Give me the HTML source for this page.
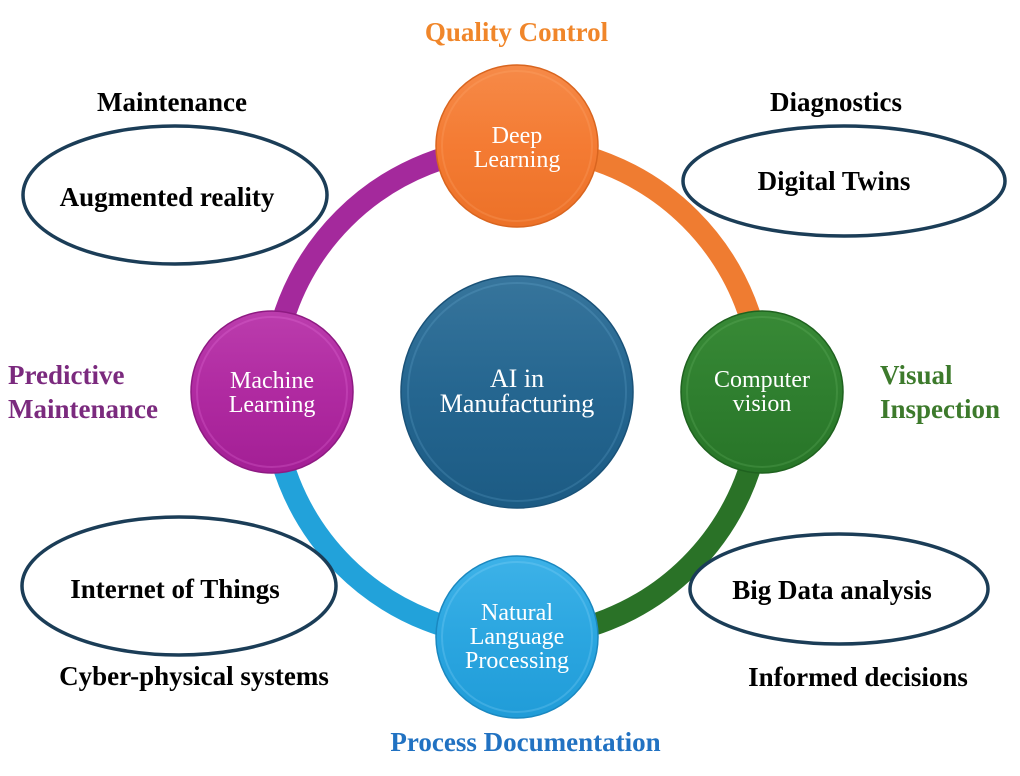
<!DOCTYPE html>
<html>
<head>
<meta charset="utf-8">
<style>
html,body{margin:0;padding:0;background:#fff;}
svg{display:block;}
text{font-family:"Liberation Serif","Times New Roman",serif;}
.lbl{font-weight:bold;font-size:27px;fill:#000;}
.node{font-size:24px;fill:#fff;}
</style>
</head>
<body>
<svg width="1020" height="776" viewBox="0 0 1020 776" xmlns="http://www.w3.org/2000/svg">
<defs>
  <linearGradient id="gO" x1="0" y1="0" x2="0" y2="1">
    <stop offset="0" stop-color="#f68a48"/>
    <stop offset="0.5" stop-color="#f47b33"/>
    <stop offset="1" stop-color="#ec7128"/>
  </linearGradient>
  <linearGradient id="gP" x1="0" y1="0" x2="0" y2="1">
    <stop offset="0" stop-color="#bb3dad"/>
    <stop offset="0.5" stop-color="#b02aa1"/>
    <stop offset="1" stop-color="#a31f95"/>
  </linearGradient>
  <linearGradient id="gC" x1="0" y1="0" x2="0" y2="1">
    <stop offset="0" stop-color="#37759c"/>
    <stop offset="0.5" stop-color="#256690"/>
    <stop offset="1" stop-color="#1c5b84"/>
  </linearGradient>
  <linearGradient id="gG" x1="0" y1="0" x2="0" y2="1">
    <stop offset="0" stop-color="#388a36"/>
    <stop offset="0.5" stop-color="#2f7f2f"/>
    <stop offset="1" stop-color="#287528"/>
  </linearGradient>
  <linearGradient id="gB" x1="0" y1="0" x2="0" y2="1">
    <stop offset="0" stop-color="#3db2e8"/>
    <stop offset="0.5" stop-color="#2ba6e0"/>
    <stop offset="1" stop-color="#209cd8"/>
  </linearGradient>
</defs>

<!-- Ring arcs -->
<g fill="none" stroke-width="22">
  <path d="M272,392 A245,245 0 0 1 517,147" stroke="#a4299c"/>
  <path d="M517,147 A245,245 0 0 1 762,392" stroke="#ef7c31"/>
  <path d="M762,392 A245,245 0 0 1 517,637" stroke="#2a7227"/>
  <path d="M517,637 A245,245 0 0 1 272,392" stroke="#22a2da"/>
</g>

<!-- Ellipses -->
<g fill="#fff" stroke="#1b3d57" stroke-width="3.5">
  <ellipse cx="175" cy="195" rx="152" ry="69"/>
  <ellipse cx="844" cy="181" rx="161" ry="55"/>
  <ellipse cx="179" cy="586" rx="157" ry="69"/>
  <ellipse cx="839" cy="589" rx="149" ry="55"/>
</g>

<!-- Center circle -->
<circle cx="517" cy="392" r="116" fill="url(#gC)" stroke="#1a5278" stroke-width="1.5"/>
<circle cx="517" cy="392" r="109" fill="none" stroke="#7fc4e8" stroke-opacity="0.18" stroke-width="2"/>

<!-- Nodes -->
<circle cx="517" cy="146" r="81" fill="url(#gO)" stroke="#d9651f" stroke-width="1.5"/>
<circle cx="517" cy="146" r="75" fill="none" stroke="#ffb07a" stroke-opacity="0.22" stroke-width="2"/>

<circle cx="272" cy="392" r="81" fill="url(#gP)" stroke="#8e1a82" stroke-width="1.5"/>
<circle cx="272" cy="392" r="75" fill="none" stroke="#f080e6" stroke-opacity="0.22" stroke-width="2"/>

<circle cx="762" cy="392" r="81" fill="url(#gG)" stroke="#1f621f" stroke-width="1.5"/>
<circle cx="762" cy="392" r="75" fill="none" stroke="#7fc87a" stroke-opacity="0.2" stroke-width="2"/>

<circle cx="517" cy="637" r="81" fill="url(#gB)" stroke="#1a88c0" stroke-width="1.5"/>
<circle cx="517" cy="637" r="75" fill="none" stroke="#9fe0ff" stroke-opacity="0.22" stroke-width="2"/>

<!-- Node text -->
<g text-anchor="middle" class="node">
  <text x="517" y="143" class="node">Deep</text>
  <text x="517" y="167" class="node">Learning</text>
  <text x="272" y="388" class="node">Machine</text>
  <text x="272" y="412" class="node">Learning</text>
  <text x="762" y="387" class="node">Computer</text>
  <text x="762" y="411" class="node">vision</text>
  <text x="517" y="620" class="node">Natural</text>
  <text x="517" y="644" class="node">Language</text>
  <text x="517" y="668" class="node">Processing</text>
  <text x="517" y="387" style="font-size:26px;fill:#fff;">AI in</text>
  <text x="517" y="412" style="font-size:26px;fill:#fff;">Manufacturing</text>
</g>

<!-- Black labels -->
<g text-anchor="middle">
  <text x="172" y="111" class="lbl">Maintenance</text>
  <text x="167" y="206" class="lbl">Augmented reality</text>
  <text x="836" y="111" class="lbl">Diagnostics</text>
  <text x="834" y="190" class="lbl">Digital Twins</text>
  <text x="175" y="598" class="lbl">Internet of Things</text>
  <text x="194" y="685" class="lbl">Cyber-physical systems</text>
  <text x="832" y="599" class="lbl">Big Data analysis</text>
  <text x="858" y="686" class="lbl">Informed decisions</text>
</g>

<!-- Colored category labels -->
<text x="516.5" y="41" text-anchor="middle" class="lbl" style="fill:#f0862a;">Quality Control</text>
<text x="8" y="384" class="lbl" style="fill:#7b2a7e;">Predictive</text>
<text x="8" y="418" class="lbl" style="fill:#7b2a7e;">Maintenance</text>
<text x="880" y="384" class="lbl" style="fill:#3d7a2c;">Visual</text>
<text x="880" y="418" class="lbl" style="fill:#3d7a2c;">Inspection</text>
<text x="525.5" y="751" text-anchor="middle" class="lbl" style="fill:#2172c2;">Process Documentation</text>
</svg>
</body>
</html>
